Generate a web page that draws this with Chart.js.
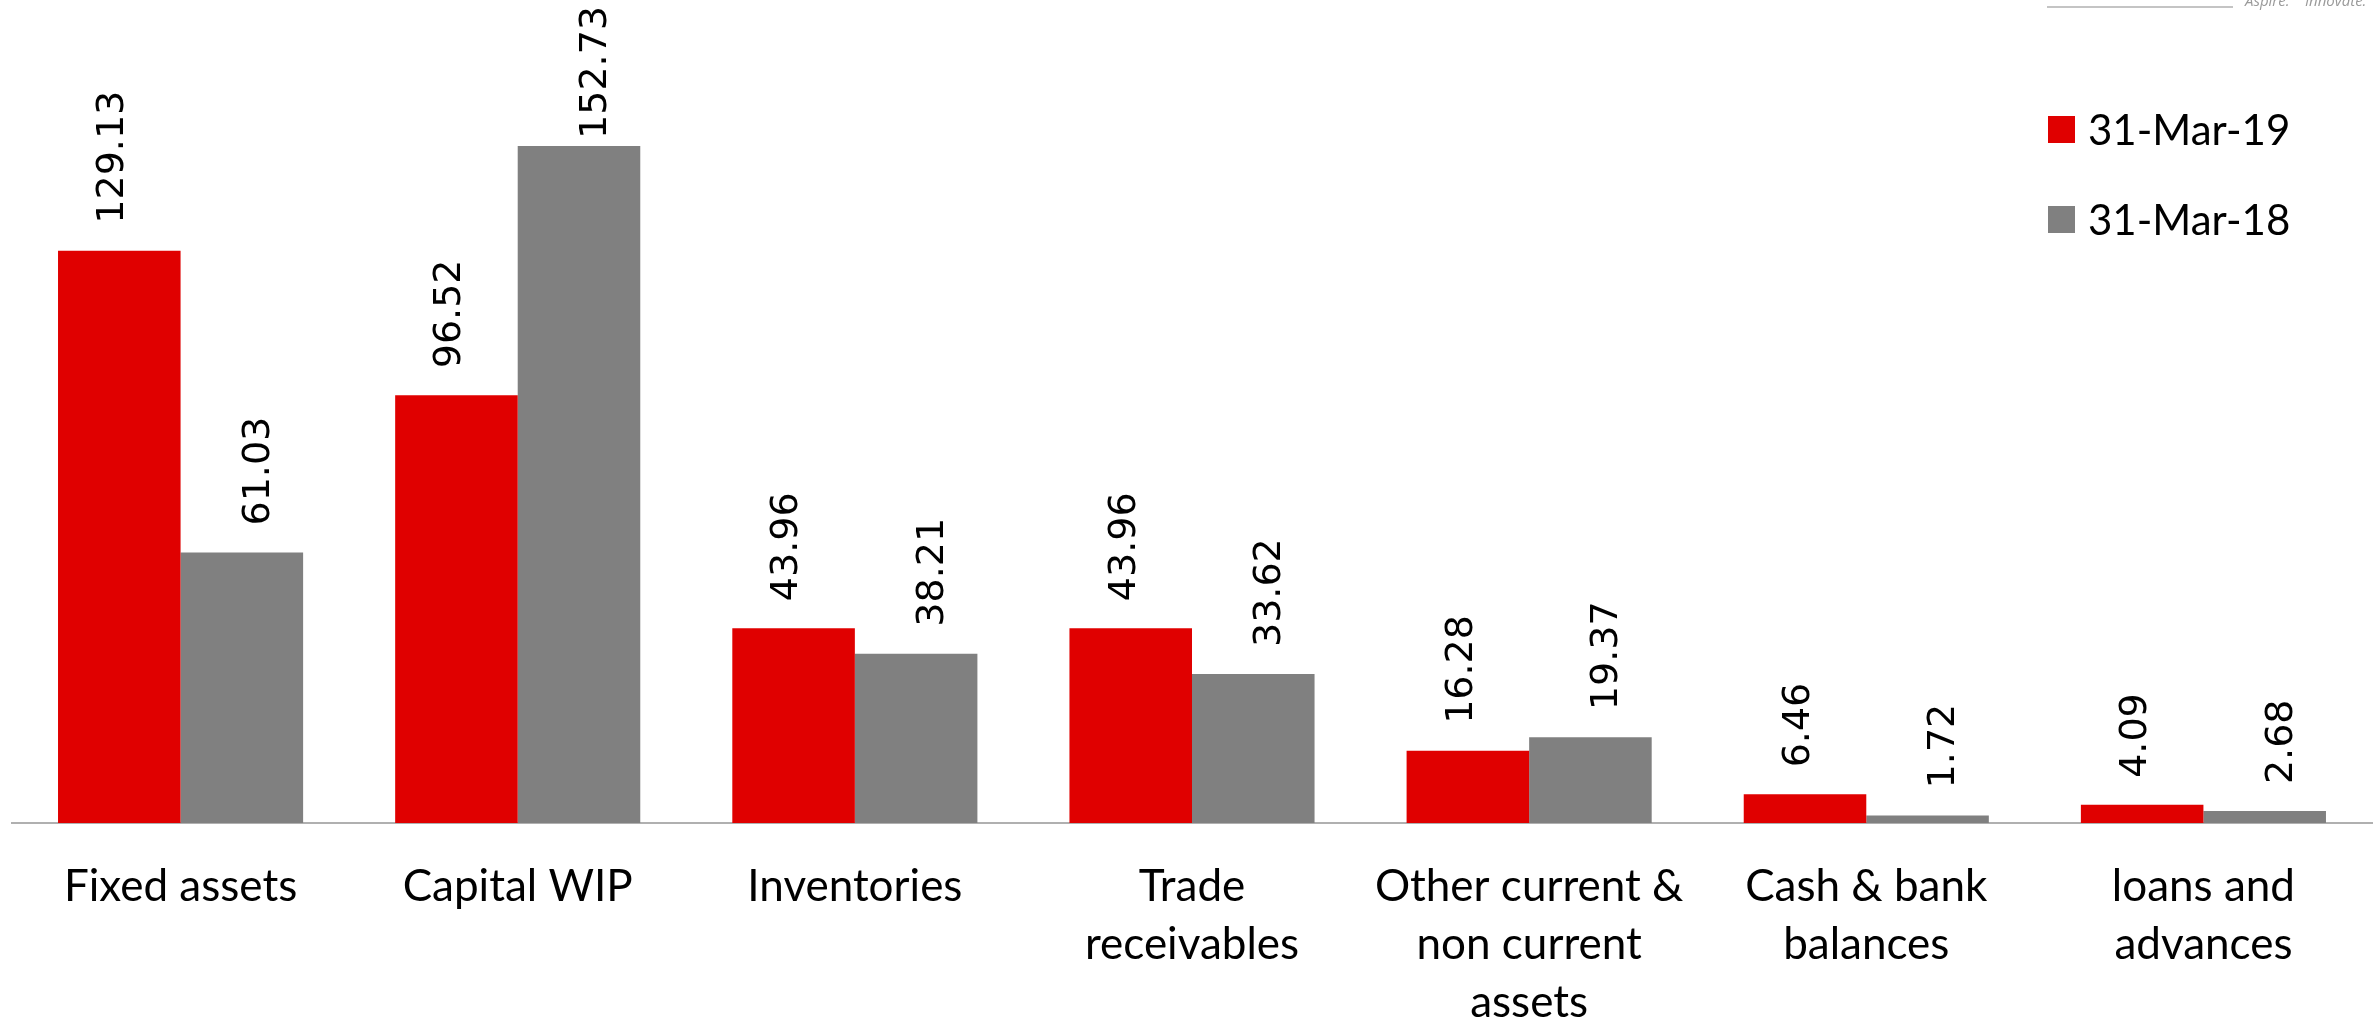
<!DOCTYPE html>
<html><head><meta charset="utf-8">
<script src="https://cdn.jsdelivr.net/npm/chart.js@4.4.0/dist/chart.umd.min.js"></script>
<style>html,body{margin:0;padding:0;background:#fff;overflow:hidden}#wrap{width:2379px;height:1022px;position:relative}</style>
</head><body><div id="wrap"><canvas id="c" width="2379" height="1022"></canvas></div>
<script>
const categories = [["Fixed assets"],["Capital WIP"],["Inventories"],["Trade","receivables"],["Other current &","non current","assets"],["Cash & bank","balances"],["loans and","advances"]];
const seriesLabels = ["31-Mar-19","31-Mar-18"];
const values2019 = [129.13, 96.52, 43.96, 43.96, 16.28, 6.46, 4.09];
const values2018 = [61.03, 152.73, 38.21, 33.62, 19.37, 1.72, 2.68];
const seriesColors = ["#e00000","#808080"];
const logoWords = ["Aspire.", "Innovate."];

const valueLabels = {
  id:'valueLabels',
  afterDatasetsDraw(chart, args, opts){
    const ctx = chart.ctx;
    ctx.save();
    ctx.font = opts.font; ctx.fillStyle = opts.color;
    ctx.textAlign='left'; ctx.textBaseline='middle';
    chart.data.datasets.forEach((ds,i)=>{
      const meta = chart.getDatasetMeta(i);
      meta.data.forEach((bar,j)=>{
        const txt = ds.data[j].toFixed(2);
        const w = ctx.measureText(txt).width;
        let y = bar.y - opts.gap;
        if (y - w < opts.minTop) y = opts.minTop + w;
        const x = bar.x + (opts.shift[i]||0);
        ctx.save(); ctx.translate(x,y); ctx.rotate(-Math.PI/2); ctx.fillText(txt,0,0); ctx.restore();
      });
    });
    ctx.restore();
  }
};

const sideLegend = {
  id:'sideLegend',
  afterDraw(chart, args, opts){
    const ctx = chart.ctx;
    ctx.save();
    ctx.font = opts.font; ctx.textAlign='left'; ctx.textBaseline='middle';
    chart.data.datasets.forEach((ds,i)=>{
      const cy = opts.y + i*opts.spacing;
      ctx.fillStyle = ds.backgroundColor;
      ctx.fillRect(opts.x, cy - opts.box/2, opts.box, opts.box);
      ctx.fillStyle = opts.color;
      ctx.fillText(ds.label, opts.x + opts.box + 13, cy + 2);
    });
    // logo remnant
    ctx.strokeStyle = '#c4c4c4'; ctx.lineWidth = 2;
    ctx.beginPath(); ctx.moveTo(2047,7); ctx.lineTo(2233,7); ctx.stroke();
    ctx.fillStyle = '#9a9a9a'; ctx.font = 'italic 15px "Open Sans"'; ctx.textBaseline='alphabetic';
    ctx.fillText(logoWords[0], 2245, 6);
    ctx.fillText(logoWords[1], 2305, 6);
    ctx.restore();
  }
};

new Chart(document.getElementById('c'), {
  type:'bar',
  data:{
    labels: categories,
    datasets:[
      {label: seriesLabels[0], data: values2019, backgroundColor: seriesColors[0]},
      {label: seriesLabels[1], data: values2018, backgroundColor: seriesColors[1]}
    ]
  },
  options:{
    responsive:false, animation:false, devicePixelRatio:1,
    categoryPercentage:0.727, barPercentage:1,
    layout:{padding:{left:12,right:7,top:0,bottom:0}},
    plugins:{
      legend:{display:false}, tooltip:{enabled:false},
      valueLabels:{font:'38px "DejaVu Sans"', color:'#000', gap:27, minTop:6, shift:[-6,17]},
      sideLegend:{x:2048, y:129.5, spacing:90, box:27, font:'42px Lato', color:'#000'}
    },
    scales:{
      y:{display:false, min:0, max:185.7},
      x:{
        grid:{display:false, drawTicks:false},
        border:{display:true, color:'#b0b0b0', width:2},
        ticks:{color:'#000', font:{family:'Lato', size:44, lineHeight:1.32}, padding:35, maxRotation:0, autoSkip:false},
        afterFit(s){ s.height = 199; }
      }
    }
  },
  plugins:[valueLabels, sideLegend]
});
</script></body></html>
